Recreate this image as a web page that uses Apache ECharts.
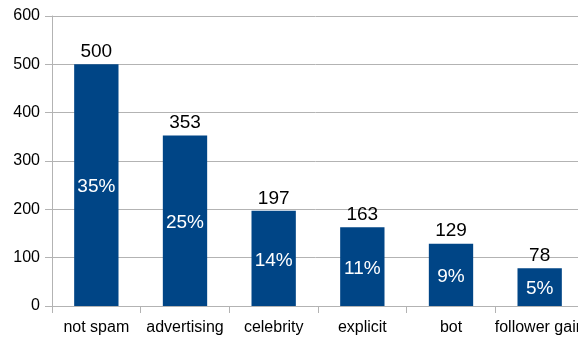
<!DOCTYPE html>
<html>
<head>
<meta charset="utf-8">
<script src="https://cdn.jsdelivr.net/npm/echarts@6/dist/echarts.min.js"></script>
<style>
  html, body { margin: 0; padding: 0; background: #fff; overflow: hidden; }
  #chart { width: 578px; height: 337px; }
</style>
</head>
<body>
<div id="chart"></div>
<script>
// Spam categories and their counts
const categories = ['not spam', 'advertising', 'celebrity', 'explicit', 'bot', 'follower gain'];
const counts = [500, 353, 197, 163, 129, 78];
const yTicks = [0, 100, 200, 300, 400, 500, 600];

const total = counts.reduce((a, b) => a + b, 0);
const shares = counts.map(v => Math.round(v / total * 100) + '%');

const font = '"Liberation Sans", Arial, sans-serif';
const chart = echarts.init(document.getElementById('chart'));

chart.setOption({
  animation: false,
  grid: {
    left: 52, top: 16, width: 532, height: 290,
    containLabel: false, outerBoundsMode: 'none'
  },
  xAxis: {
    type: 'category',
    data: categories,
    axisLine: { lineStyle: { color: '#b3b3b3', width: 1 } },
    axisTick: { show: true, length: 7, interval: 0, lineStyle: { color: '#b3b3b3' } },
    axisLabel: {
      color: '#000', fontSize: 16, fontFamily: font, margin: 14,
      interval: 0, hideOverlap: false
    },
    splitLine: { show: false }
  },
  yAxis: {
    type: 'value',
    min: yTicks[0],
    max: yTicks[yTicks.length - 1],
    interval: 100,
    axisLine: { show: true, lineStyle: { color: '#b3b3b3', width: 1 } },
    axisTick: { show: true, length: 7, lineStyle: { color: '#b3b3b3' } },
    axisLabel: { color: '#000', fontSize: 16, fontFamily: font, margin: 12 },
    splitLine: { show: true, lineStyle: { color: '#b3b3b3', width: 1 } }
  },
  series: [
    {
      type: 'bar',
      data: counts,
      barWidth: '50%',
      itemStyle: { color: '#004586' },
      label: {
        show: true,
        position: 'top',
        distance: 3,
        color: '#000',
        fontSize: 19,
        fontFamily: font
      }
    },
    {
      type: 'bar',
      data: counts,
      barWidth: '50%',
      barGap: '-100%',
      z: 3,
      itemStyle: { color: 'rgba(0,0,0,0)' },
      label: {
        show: true,
        position: 'inside',
        offset: [0, 2],
        color: '#fff',
        fontSize: 19,
        fontFamily: font,
        formatter: p => shares[p.dataIndex]
      }
    }
  ]
});
</script>
</body>
</html>
